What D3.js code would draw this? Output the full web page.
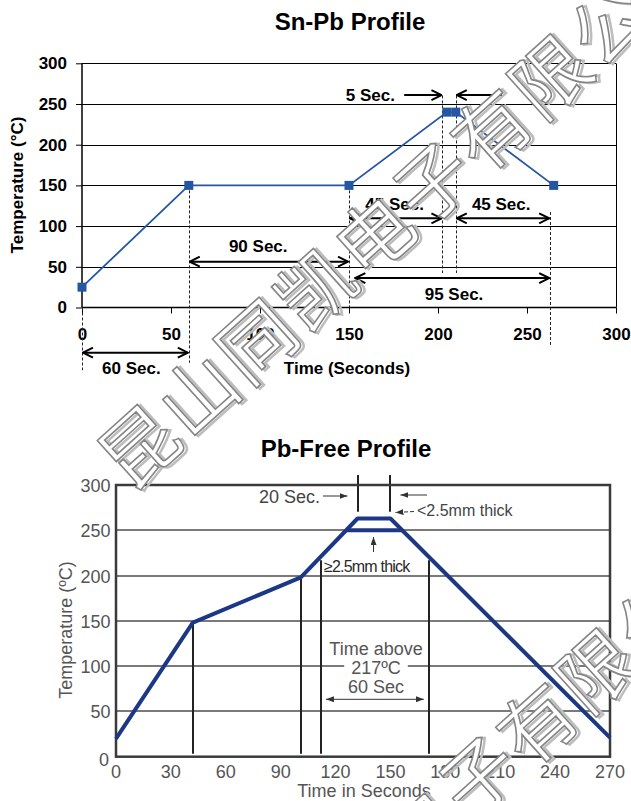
<!DOCTYPE html>
<html><head><meta charset="utf-8">
<script src="https://cdn.jsdelivr.net/npm/d3@7"></script>
<style>
html,body{margin:0;padding:0;background:#fff;}
svg{display:block;font-family:"Liberation Sans",Arial,Helvetica,sans-serif;}
</style>
</head><body>
<svg id="c" width="631" height="801"></svg>
<script>
// ---------------- DATA ----------------
// Sn-Pb profile
const snpbTime = [0, 60, 150, 205, 210, 265];
const snpbTemp = [25, 150, 150, 240, 240, 150];
const snpbXTicks = [0, 50, 100, 150, 200, 250, 300];
const snpbYTicks = [0, 50, 100, 150, 200, 250, 300];
const snpbSpanLabels = ["60 Sec.", "90 Sec.", "45 Sec.", "45 Sec.", "95 Sec."];
const snpbSpanFrom   = [0, 60, 150, 210, 153];
const snpbSpanTo     = [60, 150, 202.5, 263, 263];
const snpbPeakLabel = "5 Sec.";
const snpbPeakEdges = [202.5, 210];
const snpbRefTimes = [0, 60, 150, 202.5, 210, 263];

// Pb-free profile
const pbTime = [0, 42, 101, 132, 150, 270];
const pbTemp = [20, 148, 198, 263, 263, 21];
const pbThickTime = [126, 156.4];
const pbThickTemp = [250, 250];
const pbXTicks = [0, 30, 60, 90, 120, 150, 180, 210, 240, 270];
const pbYTicks = [0, 50, 100, 150, 200, 250, 300];
const pbStageTimes = [42, 101];
const pbLiquidusTimes = [112, 171];
const pbLiquidus = 217;
const pbPeakTimes = [132, 150];
const watermarkText = "昆山同凯电子有限公司";

// ---------------- DRAW ----------------
const svg = d3.select("#c");
const defs = svg.append("defs");
defs.append("marker").attr("id","chev").attr("viewBox","0 0 12 12")
  .attr("markerUnits","userSpaceOnUse").attr("markerWidth",12).attr("markerHeight",12)
  .attr("refX",11).attr("refY",6).attr("orient","auto-start-reverse")
  .append("path").attr("d","M1,1 L11,6 L1,11").attr("fill","none").attr("stroke","#000").attr("stroke-width",2);
defs.append("marker").attr("id","tri").attr("viewBox","0 0 8 6")
  .attr("markerUnits","userSpaceOnUse").attr("markerWidth",8).attr("markerHeight",6)
  .attr("refX",8).attr("refY",3).attr("orient","auto-start-reverse")
  .append("path").attr("d","M0,0 L8,3 L0,6 Z").attr("fill","#333");
const crisp = v => Math.round(v) + 0.5;

// ===== Top chart =====
const x1 = d3.scaleLinear().domain([0,300]).range([82,616]);
const y1 = d3.scaleLinear().domain([0,300]).range([307.5,63.3]);
const g1 = svg.append("g");

g1.append("text").attr("x",350).attr("y",21).attr("text-anchor","middle")
  .attr("dominant-baseline","central").attr("font-weight","bold").attr("font-size",24)
  .text("Sn-Pb Profile");

// gridlines
g1.append("g").selectAll("line").data(snpbYTicks.filter(d=>d>0)).join("line")
  .attr("x1",x1(0)).attr("x2",x1(300)).attr("y1",d=>crisp(y1(d))).attr("y2",d=>crisp(y1(d)))
  .attr("stroke","#000").attr("stroke-width",1);
g1.append("line").attr("x1",crisp(x1(300))).attr("x2",crisp(x1(300))).attr("y1",y1(0)).attr("y2",crisp(y1(300)))
  .attr("stroke","#000").attr("stroke-width",1);

// axes
const ax1 = g1.append("g").attr("transform",`translate(0,${y1(0)})`)
  .call(d3.axisBottom(x1).tickValues(snpbXTicks).tickSize(6).tickPadding(14));
const ay1 = g1.append("g").attr("transform",`translate(${x1(0)},0)`)
  .call(d3.axisLeft(y1).tickValues(snpbYTicks).tickSize(6).tickPadding(9));
[ax1,ay1].forEach(a=>{
  a.select(".domain").attr("stroke","#000").attr("stroke-width",1.5);
  a.selectAll(".tick line").attr("stroke","#000").attr("stroke-width",1);
  a.selectAll(".tick text").attr("font-family","Liberation Sans, Arial, sans-serif")
   .attr("font-size",17).attr("font-weight","bold").attr("fill","#000");
});
ax1.select(".domain").attr("d",`M${x1(0)},0H${x1(300)}`);
ay1.select(".domain").attr("d",`M0,${y1(0)}V${y1(300)}`);

g1.append("text").attr("x",347).attr("y",368.5).attr("text-anchor","middle")
  .attr("dominant-baseline","central").attr("font-weight","bold").attr("font-size",17)
  .text("Time (Seconds)");
g1.append("text").attr("transform","translate(17.5,185) rotate(-90)").attr("text-anchor","middle")
  .attr("dominant-baseline","central").attr("font-weight","bold").attr("font-size",17)
  .text("Temperature (°C)");

// dashed reference lines (temperature ranges in data units)
const dashFromTo = [[0,-77],[150,-68],[150,0],[260.5,42.4],[260.5,42.4],[117.3,-46]];
g1.append("g").selectAll("line").data(snpbRefTimes).join("line")
  .attr("x1",d=>crisp(x1(d))).attr("x2",d=>crisp(x1(d)))
  .attr("y1",(d,i)=>y1(dashFromTo[i][0])).attr("y2",(d,i)=>y1(dashFromTo[i][1]))
  .attr("stroke","#222").attr("stroke-width",1).attr("stroke-dasharray","3,2");

// double arrows
const arrowLevel = [-55.5, 56.3, 109.6, 109.6, 36.2];
const labelLevel = [-74.7, 74.7, 127.1, 127.1, 15.4];
const labelCenter = [27.7, 99, 175.6, 235.5, 209];
snpbSpanLabels.forEach((lab,i)=>{
  g1.append("line").attr("x1",x1(snpbSpanFrom[i])+1).attr("x2",x1(snpbSpanTo[i])-1)
    .attr("y1",y1(arrowLevel[i])).attr("y2",y1(arrowLevel[i]))
    .attr("stroke","#000").attr("stroke-width",2)
    .attr("marker-start","url(#chev)").attr("marker-end","url(#chev)");
  g1.append("text").attr("x",x1(labelCenter[i])).attr("y",y1(labelLevel[i]))
    .attr("text-anchor","middle").attr("dominant-baseline","central")
    .attr("font-weight","bold").attr("font-size",17).text(lab);
});
// 5 sec arrows
const pkY = y1(261);
g1.append("line").attr("x1",x1(181)).attr("x2",x1(snpbPeakEdges[0])-1).attr("y1",pkY).attr("y2",pkY)
  .attr("stroke","#000").attr("stroke-width",2).attr("marker-end","url(#chev)");
g1.append("line").attr("x1",x1(236)).attr("x2",x1(snpbPeakEdges[1])+1).attr("y1",pkY).attr("y2",pkY)
  .attr("stroke","#000").attr("stroke-width",2).attr("marker-end","url(#chev)");
g1.append("text").attr("x",x1(162)).attr("y",pkY).attr("text-anchor","middle")
  .attr("dominant-baseline","central").attr("font-weight","bold").attr("font-size",17).text(snpbPeakLabel);

// series
const blue = "#2456a3";
const pts1 = snpbTime.map((t,i)=>[t,snpbTemp[i]]);
g1.append("path").datum(pts1)
  .attr("d",d3.line().x(d=>x1(d[0])).y(d=>y1(d[1])))
  .attr("fill","none").attr("stroke",blue).attr("stroke-width",1.8);
g1.append("g").selectAll("rect").data(pts1).join("rect")
  .attr("x",d=>x1(d[0])-4.5).attr("y",d=>y1(d[1])-4.5).attr("width",9).attr("height",9)
  .attr("fill",blue);

// ===== Bottom chart =====
const x2 = d3.scaleLinear().domain([0,270]).range([116,610]);
const y2 = d3.scaleLinear().domain([0,300]).range([756.7,485]);
const g2 = svg.append("g");
const grey = "#555";

g2.append("text").attr("x",346).attr("y",448).attr("text-anchor","middle")
  .attr("dominant-baseline","central").attr("font-weight","bold").attr("font-size",24)
  .text("Pb-Free Profile");

g2.append("g").selectAll("line").data(pbYTicks.filter(d=>d>0&&d<300)).join("line")
  .attr("x1",x2(0)).attr("x2",x2(270)).attr("y1",d=>Math.round(y2(d))).attr("y2",d=>Math.round(y2(d)))
  .attr("stroke","#7a7a7a").attr("stroke-width",2);

// white boxes behind text (drawn before texts)
const tb = g2.append("g");

// vertical reference lines
const curveAt = d3.scaleLinear().domain(pbTime).range(pbTemp);
g2.append("g").selectAll("line").data(pbStageTimes).join("line")
  .attr("x1",d=>Math.round(x2(d))).attr("x2",d=>Math.round(x2(d))).attr("y1",d=>y2(curveAt(d))).attr("y2",y2(0)-3)
  .attr("stroke","#222").attr("stroke-width",2);
g2.append("g").selectAll("line").data(pbLiquidusTimes).join("line")
  .attr("x1",d=>Math.round(x2(d))).attr("x2",d=>Math.round(x2(d))).attr("y1",y2(pbLiquidus)).attr("y2",y2(0)-3)
  .attr("stroke","#222").attr("stroke-width",2);
g2.append("g").selectAll("line").data(pbPeakTimes).join("line")
  .attr("x1",d=>Math.round(x2(d))).attr("x2",d=>Math.round(x2(d))).attr("y1",y2(311)).attr("y2",y2(270.5))
  .attr("stroke","#222").attr("stroke-width",2);

// frame
g2.append("rect").attr("x",x2(0)).attr("y",y2(300)).attr("width",x2(270)-x2(0)).attr("height",y2(0)-y2(300))
  .attr("fill","none").attr("stroke","#3a3a3a").attr("stroke-width",2.5);

// ticks labels
g2.append("g").selectAll("text").data(pbXTicks).join("text")
  .attr("x",d=>x2(d)).attr("y",771.7).attr("text-anchor","middle").attr("dominant-baseline","central")
  .attr("font-size",18).attr("fill",grey).text(d=>d);
g2.append("g").selectAll("text").data(pbYTicks).join("text")
  .attr("x",d=>d===0?109:110.5).attr("y",d=>d===0?760:y2(d)+1).attr("text-anchor","end").attr("dominant-baseline","central")
  .attr("font-size",18).attr("fill",grey).text(d=>d);
g2.append("text").attr("x",364).attr("y",791).attr("text-anchor","middle").attr("dominant-baseline","central")
  .attr("font-size",18).attr("fill",grey).text("Time in Seconds");
g2.append("text").attr("transform","translate(66,630) rotate(-90)").attr("text-anchor","middle")
  .attr("dominant-baseline","central").attr("font-size",18).attr("fill",grey).text("Temperature (ºC)");

// curve
const pts2 = pbTime.map((t,i)=>[t,pbTemp[i]]);
g2.append("path").datum(pts2).attr("d",d3.line().x(d=>x2(d[0])).y(d=>y2(d[1])))
  .attr("fill","none").attr("stroke","#1b3786").attr("stroke-width",4).attr("stroke-linejoin","round");
g2.append("path").datum(pbThickTime.map((t,i)=>[t,pbThickTemp[i]]))
  .attr("d",d3.line().x(d=>x2(d[0])).y(d=>y2(d[1])))
  .attr("fill","none").attr("stroke","#1b3786").attr("stroke-width",4);

// annotations
const tcol = "#444";
g2.append("text").attr("x",320).attr("y",497.3).attr("text-anchor","end").attr("dominant-baseline","central")
  .attr("font-size",18).attr("fill",tcol).text("20 Sec.");
g2.append("line").attr("x1",323).attr("x2",x2(pbPeakTimes[0])-10).attr("y1",496).attr("y2",496)
  .attr("stroke","#333").attr("stroke-width",1).attr("marker-end","url(#tri)");
g2.append("line").attr("x1",427).attr("x2",x2(pbPeakTimes[1])+10).attr("y1",495).attr("y2",495)
  .attr("stroke","#333").attr("stroke-width",1).attr("marker-end","url(#tri)");
g2.append("line").attr("x1",414).attr("x2",x2(pbPeakTimes[1])+5).attr("y1",511.5).attr("y2",512.5)
  .attr("stroke","#333").attr("stroke-width",1).attr("stroke-dasharray","4,2").attr("marker-end","url(#tri)");
g2.append("text").attr("x",417).attr("y",510).attr("dominant-baseline","central")
  .attr("font-size",16).attr("fill",tcol).text("<2.5mm thick");
g2.append("line").attr("x1",373.5).attr("x2",373.5).attr("y1",552).attr("y2",537)
  .attr("stroke","#333").attr("stroke-width",1).attr("marker-end","url(#tri)");
g2.append("text").attr("x",324).attr("y",566).attr("dominant-baseline","central")
  .attr("font-size",16).attr("letter-spacing",-0.8).attr("fill","#2a2a2a").text("≥2.5mm thick");

const taLines = ["Time above","217ºC","60 Sec"];
const taY = [649.3,668.3,687];
taLines.forEach((s,i)=>{
  const t = g2.append("text").attr("x",376).attr("y",taY[i]).attr("text-anchor","middle")
    .attr("dominant-baseline","central").attr("font-size",18).attr("fill",grey).text(s);
  if(i===1){
    const bb = t.node().getBBox();
    tb.append("rect").attr("x",bb.x-7).attr("y",bb.y+2).attr("width",bb.width+14).attr("height",bb.height-4).attr("fill","#fff");
  }
});
g2.append("line").attr("x1",x2(pbLiquidusTimes[0])+5).attr("x2",x2(pbLiquidusTimes[1])-5)
  .attr("y1",699.3).attr("y2",699.3).attr("stroke","#333").attr("stroke-width",1)
  .attr("marker-start","url(#tri)").attr("marker-end","url(#tri)");

// ===== Watermark =====
function watermark(cx, cy){
  const g = svg.append("g").attr("transform",`translate(${cx},${cy}) rotate(-42)`);
  const fs = 76, ls = 3;
  g.append("text").attr("x",-37).attr("y",2.5).attr("dominant-baseline","central")
    .attr("font-family","Noto Sans CJK SC").attr("font-size",fs).attr("letter-spacing",ls)
    .attr("fill","none").attr("stroke","#bdbdbd").attr("stroke-width",2.5).text(watermarkText);
  g.append("text").attr("x",-39).attr("y",0).attr("dominant-baseline","central")
    .attr("font-family","Noto Sans CJK SC").attr("font-size",fs).attr("letter-spacing",ls)
    .attr("fill","#fff").attr("stroke","#858585").attr("stroke-width",1.6).text(watermarkText);
}
watermark(137,443);
watermark(183,1037);
</script>
</body></html>
